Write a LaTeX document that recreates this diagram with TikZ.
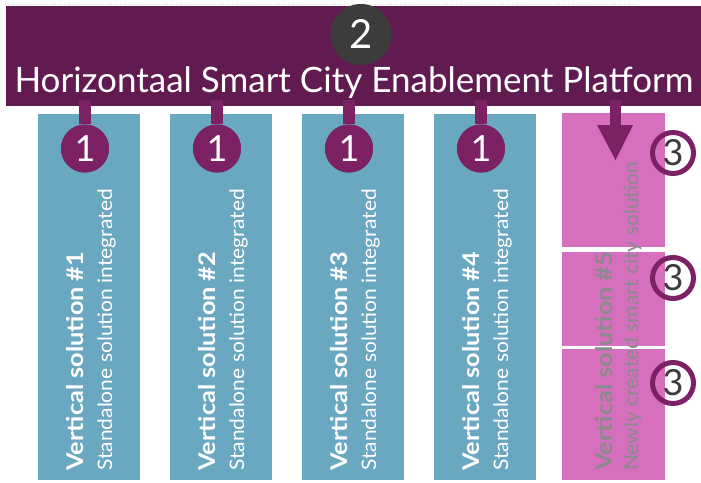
\documentclass[tikz,border=0pt]{standalone}
\usepackage{fontspec}
\setmainfont{Lato}
\definecolor{banner}{HTML}{621B50}
\definecolor{accent}{HTML}{7B2164}
\definecolor{pillarblue}{HTML}{6AA7C1}
\definecolor{pillarpink}{HTML}{D56FBE}
\definecolor{darkdisc}{HTML}{3C3C3C}
\definecolor{pinktext}{HTML}{8C8A8C}
\tikzset{
  pillar/.style={fill=pillarblue, draw=none},
  pinkbox/.style={fill=pillarpink, draw=none},
  stem/.style={draw=accent, line width=12pt},
  onedisc/.style={circle, fill=accent, minimum size=48pt, inner sep=0pt, text=white, font=\fontsize{36}{36}\selectfont},
  threering/.style={circle, draw=accent, line width=5pt, minimum size=41pt, inner sep=0pt, text=darkdisc, font=\fontsize{36}{36}\selectfont},
  boldline/.style={rotate=90, anchor=base west, inner sep=0pt, font=\fontsize{23}{23}\selectfont\bfseries\addfontfeature{FakeStretch=1.1}},
  lightline/.style={rotate=90, anchor=base west, inner sep=0pt, font=\fontsize{20}{20}\selectfont\addfontfeature{FakeStretch=1.05}},
}
\begin{document}
\begin{tikzpicture}[x=1pt,y=-1pt]
\useasboundingbox (0,0) rectangle (701,482);
\fill[white] (0,0) rectangle (701,482);
\draw[pillarpink!40, dotted, line width=0.8pt] (5,4) -- (637,4);
% pillars
\foreach \i/\x in {1/38,2/170,3/302,4/434}{
  \fill[pillarblue] (\x,114) rectangle ++(102,366);
}
\node[pinkbox, minimum width=103pt, minimum height=134pt, inner sep=0pt, anchor=north west] (p5a) at (562,113) {};
\node[pinkbox, minimum width=103pt, minimum height=94pt, inner sep=0pt, anchor=north west] (p5b) at (562,252) {};
\node[pinkbox, minimum width=103pt, minimum height=131pt, inner sep=0pt, anchor=north west] (p5c) at (562,349) {};
% banner
\node[fill=banner, minimum width=695pt, minimum height=100pt, inner sep=0pt, anchor=north west] (banner) at (6,6) {};
\node[text=white, font=\fontsize{35}{35}\selectfont, anchor=base] (title) at (354,92) {Horizontaal Smart City Enablement Platform};
\node[circle, fill=darkdisc, minimum size=61pt, inner sep=0pt, text=white, font=\fontsize{40}{40}\selectfont] (two) at (361,34.5) {2};
% stems and discs
\foreach \i/\x in {1/85,2/217,3/349,4/481}{
  \coordinate (s\i) at (\x,100);
  \node[onedisc] (one\i) at (\x,148.5) {1};
  \draw[stem] (s\i) -- (one\i.north);
}
\foreach \i/\x in {1/85,2/217,3/349,4/481}{
  \node[onedisc] at (\x,148.5) {1};
}
% texts in blue pillars
\foreach \i/\x in {1/38,2/170,3/302,4/434}{
  \node[boldline, text=white] (b\i) at (\x+45,471) {Vertical solution \#\i};
  \node[lightline, text=white] (l\i) at (\x+74,471) {Standalone solution integrated};
}
% pink pillar text
\node[boldline, text=pinktext] (b5) at (612,471) {Vertical solution \#5};
\node[lightline, text=pinktext] (l5) at (638,471) {Newly created smart city solution};
% arrow into pink
\coordinate (a5) at (615.5,100);
\coordinate (a5tip) at (615.5,160);
\draw[accent, line width=11pt] (a5) -- (615.5,126);
\fill[accent] (597,125) -- (633,125) -- (a5tip) -- cycle;
% rings
\node[threering] (r1) at (673,153) {3};
\node[threering] (r2) at (673,278) {3};
\node[threering] (r3) at (673,383) {3};
\end{tikzpicture}
\end{document}
